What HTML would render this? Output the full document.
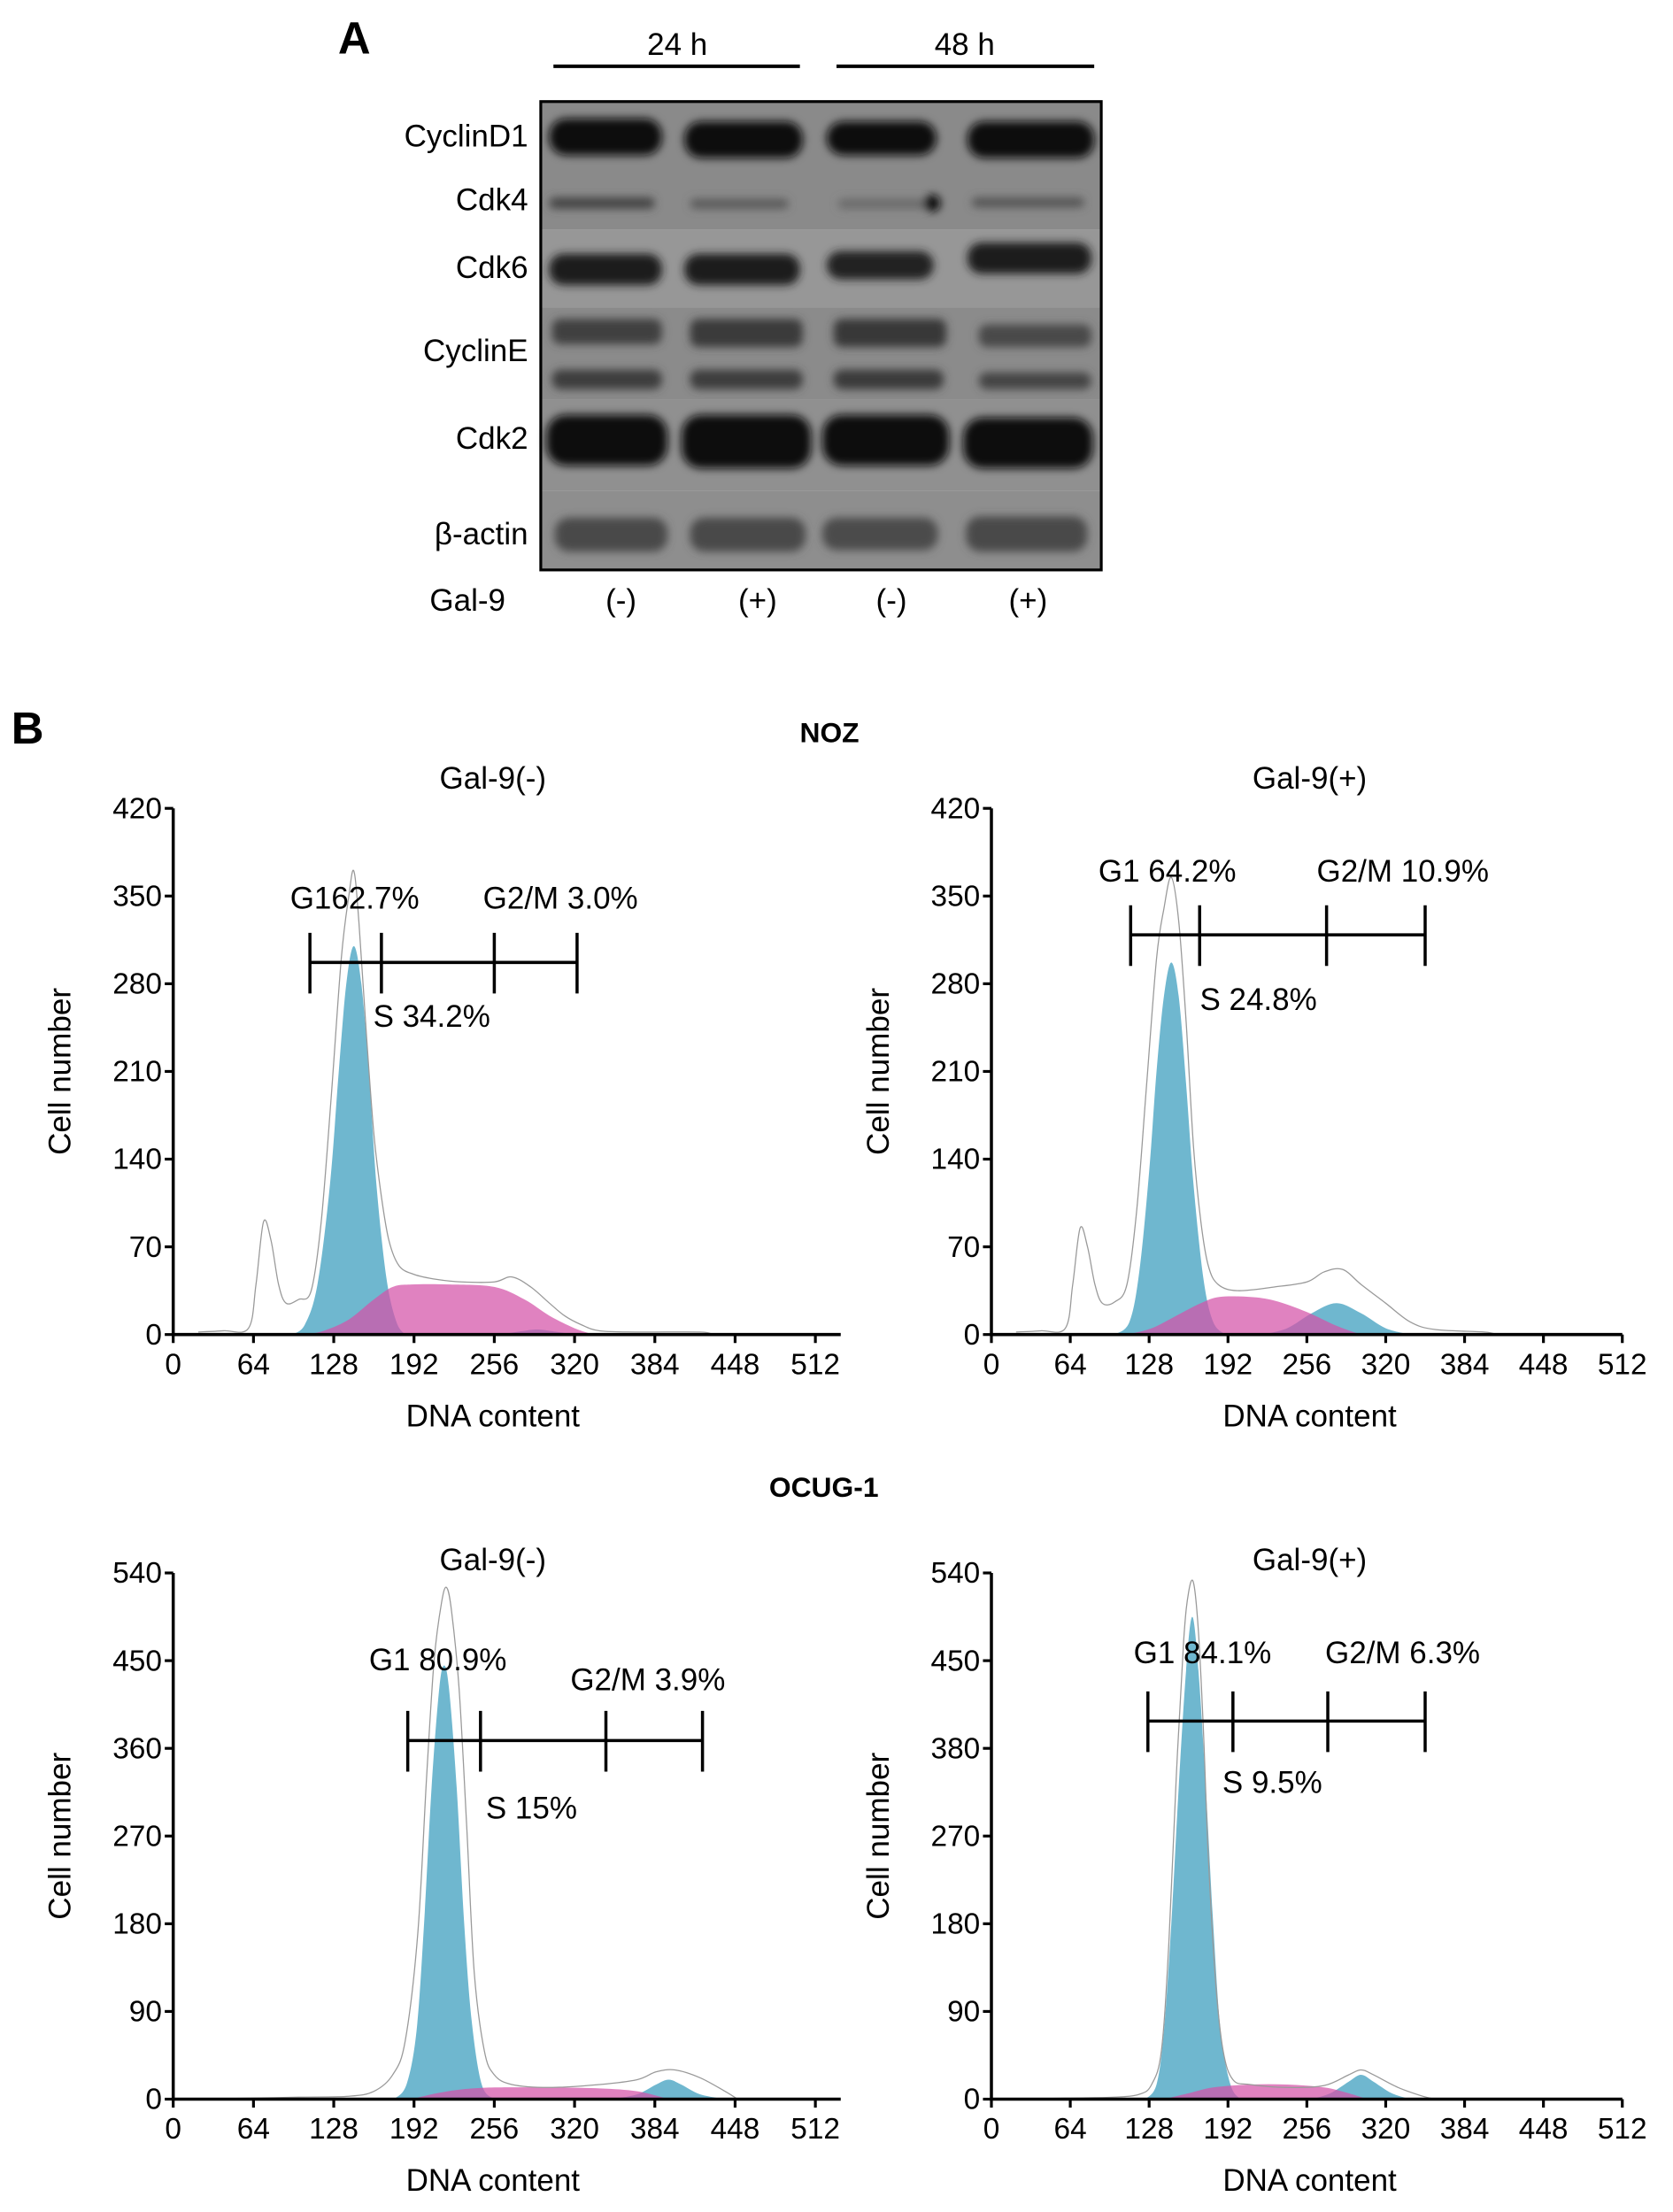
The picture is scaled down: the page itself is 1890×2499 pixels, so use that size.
<!DOCTYPE html>
<html><head><meta charset="utf-8">
<style>
html,body{margin:0;padding:0;background:#fff;}
svg{display:block;}
text{font-family:"Liberation Sans",Arial,sans-serif;fill:#000;}
</style></head>
<body>
<svg id="fig" width="1890" height="2499" viewBox="0 0 1188 1568" preserveAspectRatio="none" xmlns="http://www.w3.org/2000/svg">
<defs>
<filter id="blur" x="-20%" y="-60%" width="140%" height="220%"><feGaussianBlur stdDeviation="3"/></filter>
</defs>
<g id="panelA">
<text x="240" y="38" font-size="32" font-weight="bold">A</text>
<text x="481" y="39" font-size="22" text-anchor="middle">24 h</text>
<line x1="393" y1="47" x2="568" y2="47" stroke="#000" stroke-width="2.5"/>
<text x="685" y="39" font-size="22" text-anchor="middle">48 h</text>
<line x1="594" y1="47" x2="777" y2="47" stroke="#000" stroke-width="2.5"/>
<g>
<rect x="384" y="72" width="398" height="91" fill="#8a8a8a"/>
<rect x="384" y="163" width="398" height="55" fill="#979797"/>
<rect x="384" y="218" width="398" height="65" fill="#8b8b8b"/>
<rect x="384" y="283" width="398" height="65" fill="#909090"/>
<rect x="384" y="348" width="398" height="56" fill="#8e8e8e"/>
<g filter="url(#blur)">
<rect x="390" y="84" width="80" height="26" rx="12" fill="#0a0a0a"/>
<rect x="486" y="86" width="84" height="26" rx="12" fill="#0a0a0a"/>
<rect x="587" y="86" width="78" height="24" rx="12" fill="#0a0a0a"/>
<rect x="687" y="86" width="90" height="26" rx="12" fill="#0a0a0a"/>
<rect x="390" y="140" width="75" height="8" rx="4" fill="#454545"/>
<rect x="490" y="141" width="70" height="7" rx="4" fill="#5a5a5a"/>
<rect x="595" y="141" width="70" height="7" rx="4" fill="#6a6a6a"/>
<circle cx="662" cy="144" r="6" fill="#111"/>
<rect x="690" y="140" width="80" height="7" rx="4" fill="#555"/>
<rect x="390" y="180" width="80" height="22" rx="10" fill="#1e1e1e"/>
<rect x="486" y="180" width="82" height="22" rx="10" fill="#1e1e1e"/>
<rect x="587" y="178" width="76" height="20" rx="10" fill="#222"/>
<rect x="687" y="172" width="88" height="22" rx="10" fill="#1e1e1e"/>
<rect x="392" y="226" width="78" height="18" rx="6" fill="#404040"/>
<rect x="490" y="226" width="80" height="20" rx="6" fill="#3a3a3a"/>
<rect x="592" y="226" width="80" height="20" rx="6" fill="#383838"/>
<rect x="695" y="230" width="80" height="16" rx="6" fill="#4a4a4a"/>
<rect x="392" y="262" width="78" height="14" rx="6" fill="#3e3e3e"/>
<rect x="490" y="262" width="80" height="14" rx="6" fill="#3c3c3c"/>
<rect x="592" y="262" width="78" height="14" rx="6" fill="#3a3a3a"/>
<rect x="695" y="264" width="80" height="12" rx="6" fill="#454545"/>
<rect x="388" y="294" width="86" height="36" rx="14" fill="#0c0c0c"/>
<rect x="484" y="294" width="92" height="38" rx="14" fill="#0c0c0c"/>
<rect x="584" y="294" width="90" height="36" rx="14" fill="#0c0c0c"/>
<rect x="684" y="296" width="92" height="36" rx="14" fill="#0c0c0c"/>
<rect x="394" y="367" width="80" height="24" rx="10" fill="#4a4a4a"/>
<rect x="490" y="367" width="82" height="24" rx="10" fill="#4a4a4a"/>
<rect x="584" y="367" width="82" height="23" rx="10" fill="#4c4c4c"/>
<rect x="686" y="366" width="86" height="25" rx="10" fill="#484848"/>
</g>
<rect x="384" y="72" width="398" height="332" fill="none" stroke="#000" stroke-width="2"/>
</g>
<g font-size="22" text-anchor="end">
<text x="375" y="104">CyclinD1</text>
<text x="375" y="149">Cdk4</text>
<text x="375" y="197">Cdk6</text>
<text x="375" y="256">CyclinE</text>
<text x="375" y="318">Cdk2</text>
<text x="375" y="386">β-actin</text>
</g>
<g font-size="22" text-anchor="middle">
<text x="332" y="433">Gal-9</text>
<text x="441" y="433">(-)</text>
<text x="538" y="433">(+)</text>
<text x="633" y="433">(-)</text>
<text x="730" y="433">(+)</text>
</g>
</g>
<g id="panelB">
<text x="8" y="527" font-size="32" font-weight="bold">B</text>
<text x="589" y="526" font-size="20" font-weight="bold" text-anchor="middle">NOZ</text>
<text x="585" y="1061" font-size="20" font-weight="bold" text-anchor="middle">OCUG-1</text>
</g>
</svg>
<script>
// ---- data ----
const xTickLabels=[0,64,128,192,256,320,384,448,512];
const nozYTicks=[0,70,140,210,280,350,420];
const ocugMinusYTicks=[0,90,180,270,360,450,540];
const ocugPlusYTicks=[0,90,180,270,380,450,540];
const nozMinusRawX=[20,40,60,66,72,78,84,90,100,110,118,126,134,140,144,148,154,160,166,172,180,192,210,230,256,270,285,300,312,325,340,370,420,430];
const nozMinusRawY=[2,3,5,40,90,75,40,25,28,35,90,190,300,350,370,330,240,160,110,75,55,48,44,42,42,46,38,25,15,8,3,2,2,0];
const nozMinusG1X=[95,105,115,125,132,138,144,150,156,162,170,178,185];
const nozMinusG1Y=[0,8,40,120,210,280,310,280,210,120,45,10,0];
const nozMinusSX=[105,120,140,160,175,190,220,256,280,300,320,335];
const nozMinusSY=[0,3,12,28,38,40,40,38,28,15,5,0];
const nozMinusG2X=[260,280,290,300,320];
const nozMinusG2Y=[0,3,4,3,0];
const nozMinusMarks=[109,166,256,322];
const nozMinusMarkLevel=297;
const nozPlusRawX=[20,40,60,66,72,78,84,90,100,110,118,126,134,140,146,152,158,164,170,176,184,200,230,256,270,285,300,320,340,360,400,410];
const nozPlusRawY=[2,3,5,40,85,70,40,25,26,40,100,200,300,340,365,330,250,150,90,55,40,35,38,42,50,52,40,25,10,4,2,0];
const nozPlusG1X=[100,112,120,128,134,140,146,152,158,164,172,180,190];
const nozPlusG1Y=[0,10,50,130,210,270,297,270,200,120,45,10,0];
const nozPlusSX=[110,130,150,170,185,210,230,256,280,300];
const nozPlusSY=[0,5,15,25,30,30,27,18,7,0];
const nozPlusG2X=[220,240,260,280,300,320,340];
const nozPlusG2Y=[0,5,17,25,17,5,0];
const nozPlusMarks=[113,169,272,352];
const nozPlusMarkLevel=319;
const ocugMinusRawX=[20,60,100,140,160,175,185,195,202,208,214,218,222,228,234,240,248,256,270,300,340,370,385,400,420,440,450];
const ocugMinusRawY=[0,1,2,3,8,25,60,170,330,450,510,525,500,420,280,130,50,25,15,12,15,20,28,30,22,8,0];
const ocugMinusG1X=[176,186,194,200,206,212,216,220,226,232,238,246,256];
const ocugMinusG1Y=[0,15,70,180,320,420,445,420,320,180,80,15,0];
const ocugMinusSX=[190,210,230,256,300,340,370,395];
const ocugMinusSY=[0,6,10,12,12,11,8,0];
const ocugMinusG2X=[350,370,385,395,405,420,440];
const ocugMinusG2Y=[0,5,15,20,15,5,0];
const ocugMinusMarks=[187,245,345,422];
const ocugMinusMarkLevel=368;
const ocugPlusRawX=[20,60,100,120,130,138,144,150,156,160,164,168,172,176,182,188,196,210,240,270,290,300,310,330,350,360];
const ocugPlusRawY=[0,1,2,5,15,50,160,330,470,520,530,480,380,250,120,50,20,15,12,14,25,30,25,12,3,0];
const ocugPlusG1X=[125,134,140,146,152,158,163,168,174,180,186,194,202];
const ocugPlusG1Y=[0,15,70,180,320,440,495,440,320,180,70,15,0];
const ocugPlusSX=[140,160,180,210,240,270,290,305];
const ocugPlusSY=[0,6,12,15,15,12,6,0];
const ocugPlusG2X=[260,275,290,300,310,325,340];
const ocugPlusG2Y=[0,6,18,25,18,6,0];
const ocugPlusMarks=[127,196,273,352];
const ocugPlusMarkLevel=388;

const NS='http://www.w3.org/2000/svg';
const fig=document.getElementById('fig');
function mk(tag,attrs,parent){const e=document.createElementNS(NS,tag);for(const k in attrs)e.setAttribute(k,attrs[k]);(parent||fig).appendChild(e);return e;}
function smoothPath(pts){
  let d='M'+pts[0][0].toFixed(2)+','+pts[0][1].toFixed(2);
  for(let i=0;i<pts.length-1;i++){
    const p0=pts[Math.max(0,i-1)],p1=pts[i],p2=pts[i+1],p3=pts[Math.min(pts.length-1,i+2)];
    const c1x=p1[0]+(p2[0]-p0[0])/6,c1y=p1[1]+(p2[1]-p0[1])/6;
    const c2x=p2[0]-(p3[0]-p1[0])/6,c2y=p2[1]-(p3[1]-p1[1])/6;
    d+=' C'+c1x.toFixed(2)+','+c1y.toFixed(2)+' '+c2x.toFixed(2)+','+c2y.toFixed(2)+' '+p2[0].toFixed(2)+','+p2[1].toFixed(2);
  }
  return d;
}
function chart(cfg){
  const g=mk('g',{});
  
  
  const ymax=cfg.yTicks[cfg.yTicks.length-1];
  const sx=v=>cfg.ox+(v/512)*(cfg.xr-cfg.ox);
  const sy=v=>cfg.yb-(v/ymax)*(cfg.yb-cfg.yt);
  const pts=(xs,ys)=>xs.map((x,i)=>[sx(x),sy(ys[i])]);
  const area=(xs,ys,fill,op,nm)=>{
    const p=mk('path',{d:smoothPath(pts(xs,ys))+' Z',fill:fill,'fill-opacity':op},g);
    
    
  };
  area(cfg.g1x,cfg.g1y,'#6fb7cf',1,'g1-fit');
  area(cfg.g2x,cfg.g2y,'#6fb7cf',1,'g2m-fit');
  area(cfg.sx,cfg.sy,'#d452a8',0.72,'s-phase-fit');
  const raw=mk('path',{d:smoothPath(pts(cfg.rawx,cfg.rawy)),fill:'none',stroke:'#999','stroke-width':0.8},g);
  
  
  const ax=mk('path',{d:'M'+cfg.ox+','+cfg.yt+' V'+cfg.yb+' H'+cfg.axEnd,fill:'none',stroke:'#000','stroke-width':2.2},g);
  
  
  cfg.yTicks.forEach((t,i)=>{
    const yv=(i/(cfg.yTicks.length-1))*ymax;
    const y=sy(yv);
    mk('line',{x1:cfg.ox-6,x2:cfg.ox,y1:y,y2:y,stroke:'#000','stroke-width':2},g);
    const tx=mk('text',{x:cfg.ox-8,y:y+7,'font-size':21,'text-anchor':'end'},g);
    tx.textContent=t;
    
    
  });
  xTickLabels.forEach(t=>{
    const x=sx(t);
    mk('line',{x1:x,x2:x,y1:cfg.yb,y2:cfg.yb+6,stroke:'#000','stroke-width':2},g);
    const tx=mk('text',{x:x,y:cfg.yb+28,'font-size':21,'text-anchor':'middle'},g);
    tx.textContent=t;
    
    
  });
  const xl=mk('text',{x:cfg.titleX,y:cfg.yb+65,'font-size':22,'text-anchor':'middle'},g);
  xl.textContent='DNA content';
  
  
  const cy=(cfg.yt+cfg.yb)/2;
  const yl=mk('text',{x:cfg.ox-73,y:cy,'font-size':22,'text-anchor':'middle',transform:'rotate(-90 '+(cfg.ox-73)+' '+cy+')'},g);
  yl.textContent='Cell number';
  
  
  const tt=mk('text',{x:cfg.titleX,y:cfg.titleY,'font-size':22,'text-anchor':'middle'},g);
  tt.textContent=cfg.title;
  
  
  const my=sy(cfg.markLevel);
  const hl=mk('line',{x1:sx(cfg.marks[0]),x2:sx(cfg.marks[3]),y1:my,y2:my,stroke:'#000','stroke-width':2.2},g);
  
  
  cfg.marks.forEach(m=>{
    const l=mk('line',{x1:sx(m),x2:sx(m),y1:my-21,y2:my+22,stroke:'#000','stroke-width':2.2},g);
    
    
  });
  cfg.labels.forEach(L=>{
    const t=mk('text',{x:L[1],y:L[2],'font-size':22},g);
    t.textContent=L[0];
    
    
  });
}
chart({name:'noz-gal9-minus-histogram',ox:123,xr:579,axEnd:597,yb:946,yt:573,yTicks:nozYTicks,title:'Gal-9(-)',titleX:350,titleY:559,
  rawx:nozMinusRawX,rawy:nozMinusRawY,g1x:nozMinusG1X,g1y:nozMinusG1Y,sx:nozMinusSX,sy:nozMinusSY,g2x:nozMinusG2X,g2y:nozMinusG2Y,
  marks:nozMinusMarks,markLevel:nozMinusMarkLevel,labels:[['G162.7%',206,644],['G2/M 3.0%',343,644],['S 34.2%',265,728]]});
chart({name:'noz-gal9-plus-histogram',ox:704,xr:1152,axEnd:1152,yb:946,yt:573,yTicks:nozYTicks,title:'Gal-9(+)',titleX:930,titleY:559,
  rawx:nozPlusRawX,rawy:nozPlusRawY,g1x:nozPlusG1X,g1y:nozPlusG1Y,sx:nozPlusSX,sy:nozPlusSY,g2x:nozPlusG2X,g2y:nozPlusG2Y,
  marks:nozPlusMarks,markLevel:nozPlusMarkLevel,labels:[['G1 64.2%',780,625],['G2/M 10.9%',935,625],['S 24.8%',852,716]]});
chart({name:'ocug1-gal9-minus-histogram',ox:123,xr:579,axEnd:597,yb:1488,yt:1115,yTicks:ocugMinusYTicks,title:'Gal-9(-)',titleX:350,titleY:1113,
  rawx:ocugMinusRawX,rawy:ocugMinusRawY,g1x:ocugMinusG1X,g1y:ocugMinusG1Y,sx:ocugMinusSX,sy:ocugMinusSY,g2x:ocugMinusG2X,g2y:ocugMinusG2Y,
  marks:ocugMinusMarks,markLevel:ocugMinusMarkLevel,labels:[['G1 80.9%',262,1184],['G2/M 3.9%',405,1198],['S 15%',345,1289]]});
chart({name:'ocug1-gal9-plus-histogram',ox:704,xr:1152,axEnd:1152,yb:1488,yt:1115,yTicks:ocugPlusYTicks,title:'Gal-9(+)',titleX:930,titleY:1113,
  rawx:ocugPlusRawX,rawy:ocugPlusRawY,g1x:ocugPlusG1X,g1y:ocugPlusG1Y,sx:ocugPlusSX,sy:ocugPlusSY,g2x:ocugPlusG2X,g2y:ocugPlusG2Y,
  marks:ocugPlusMarks,markLevel:ocugPlusMarkLevel,labels:[['G1 84.1%',805,1179],['G2/M 6.3%',941,1179],['S 9.5%',868,1271]]});
</script>
</body></html>
